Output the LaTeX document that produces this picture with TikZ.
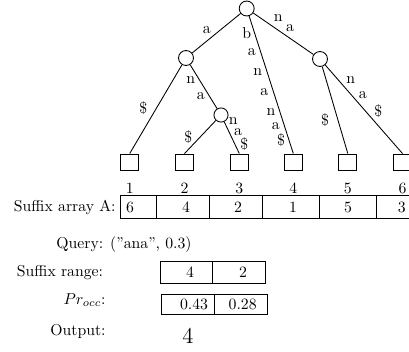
\documentclass[tikz,border=0pt]{standalone}
\begin{document}
\begin{tikzpicture}[x=0.635pt,y=-0.635pt,line width=0.55pt,
  inner/.style={circle,draw,minimum size=9.5pt,inner sep=0pt},
  leaf/.style={rectangle,draw,minimum width=11.4pt,minimum height=10.2pt,inner sep=0pt},
  lbl/.style={inner sep=0pt},
  edge/.style={draw}]
\useasboundingbox (0,0) rectangle (409,351);
\clip (0,0) rectangle (409,351);
% tree nodes
\node[inner] (root) at (246.7,8.5) {};
\node[inner] (L) at (186,58) {};
\node[inner,minimum size=9pt] (S) at (221,115) {};
\node[inner] (R) at (320,59) {};
\foreach \i/\x in {1/129.7,2/184.5,3/239.3,4/293.3,5/347.8,6/402.5}{
  \node[leaf] (l\i) at (\x,162) {};
  \node[lbl] (n\i) at (\x,188) {\i};
}
% edges
\draw (root) -- (L);
\draw (root) -- (l4.north);
\draw (root) -- (R);
\draw (L) -- (l1.north);
\draw (L) -- (S);
\draw (S) -- (l2.north);
\draw (S) -- (l3.north);
\draw (R) -- (l5.north);
\draw (R) -- (l6.north);
% edge labels
\node[lbl] (e1) at (206.7,30) {a};
\node[lbl] (e2) at (246.7,33.3) {b};
\node[lbl] (e3) at (251.7,51.7) {a};
\node[lbl] (e4) at (257.7,71.7) {n};
\node[lbl] (e5) at (264.3,91.7) {a};
\node[lbl] (e6) at (271,111.7) {n};
\node[lbl] (e7) at (275.7,126) {a};
\node[lbl] (e8) at (281,140) {\$};
\node[lbl] (e9) at (278.3,18.3) {n};
\node[lbl] (e10) at (290,28) {a};
\node[lbl] (e11) at (143.3,108.3) {\$};
\node[lbl] (e12) at (190.7,80) {n};
\node[lbl] (e13) at (200.7,95.7) {a};
\node[lbl] (e14) at (188.3,136.7) {\$};
\node[lbl] (e15) at (233.3,121.3) {n};
\node[lbl] (e16) at (238,132.3) {a};
\node[lbl] (e17) at (244.2,144.5) {\$};
\node[lbl] (e18) at (325,120) {\$};
\node[lbl] (e19) at (350.7,80) {n};
\node[lbl] (e20) at (362.7,95) {a};
\node[lbl] (e21) at (378.3,111) {\$};
% suffix array
\node[lbl,anchor=east] (salbl) at (116,207) {Suffix array A:};
\draw (120,195.7) rectangle (420,218);
\foreach \x in {156.7,209.3,262.3,319.3,376}{\draw (\x,195.7) -- (\x,218);}
\foreach \v/\x [count=\k] in {6/130,4/186,2/238,1/293,5/348,3/401.7}{
  \node[lbl] (a\k) at (\x,207) {\v};
}
% query
\node[lbl] (query) at (124,245) {Query: (''ana'', 0.3)};
\node[lbl] (srlbl) at (60,273) {Suffix range:};
\draw (160,261) rectangle (265.7,283);
\draw (212.7,261) -- (212.7,283);
\node[lbl] (sr1) at (190,272) {4};
\node[lbl] (sr2) at (243,272) {2};
\node[lbl,anchor=east] (prlbl) at (106,300) {$Pr_{occ}$:};
\draw (161,294) rectangle (267.7,314.3);
\draw (214.3,294) -- (214.3,314.3);
\node[lbl] (pr1) at (194,304) {0.43};
\node[lbl] (pr2) at (242.7,304) {0.28};
\node[lbl,anchor=east] (outlbl) at (106,331.7) {Output:};
\node[lbl] (out) at (188,336) {\Large 4};
\end{tikzpicture}
\end{document}
